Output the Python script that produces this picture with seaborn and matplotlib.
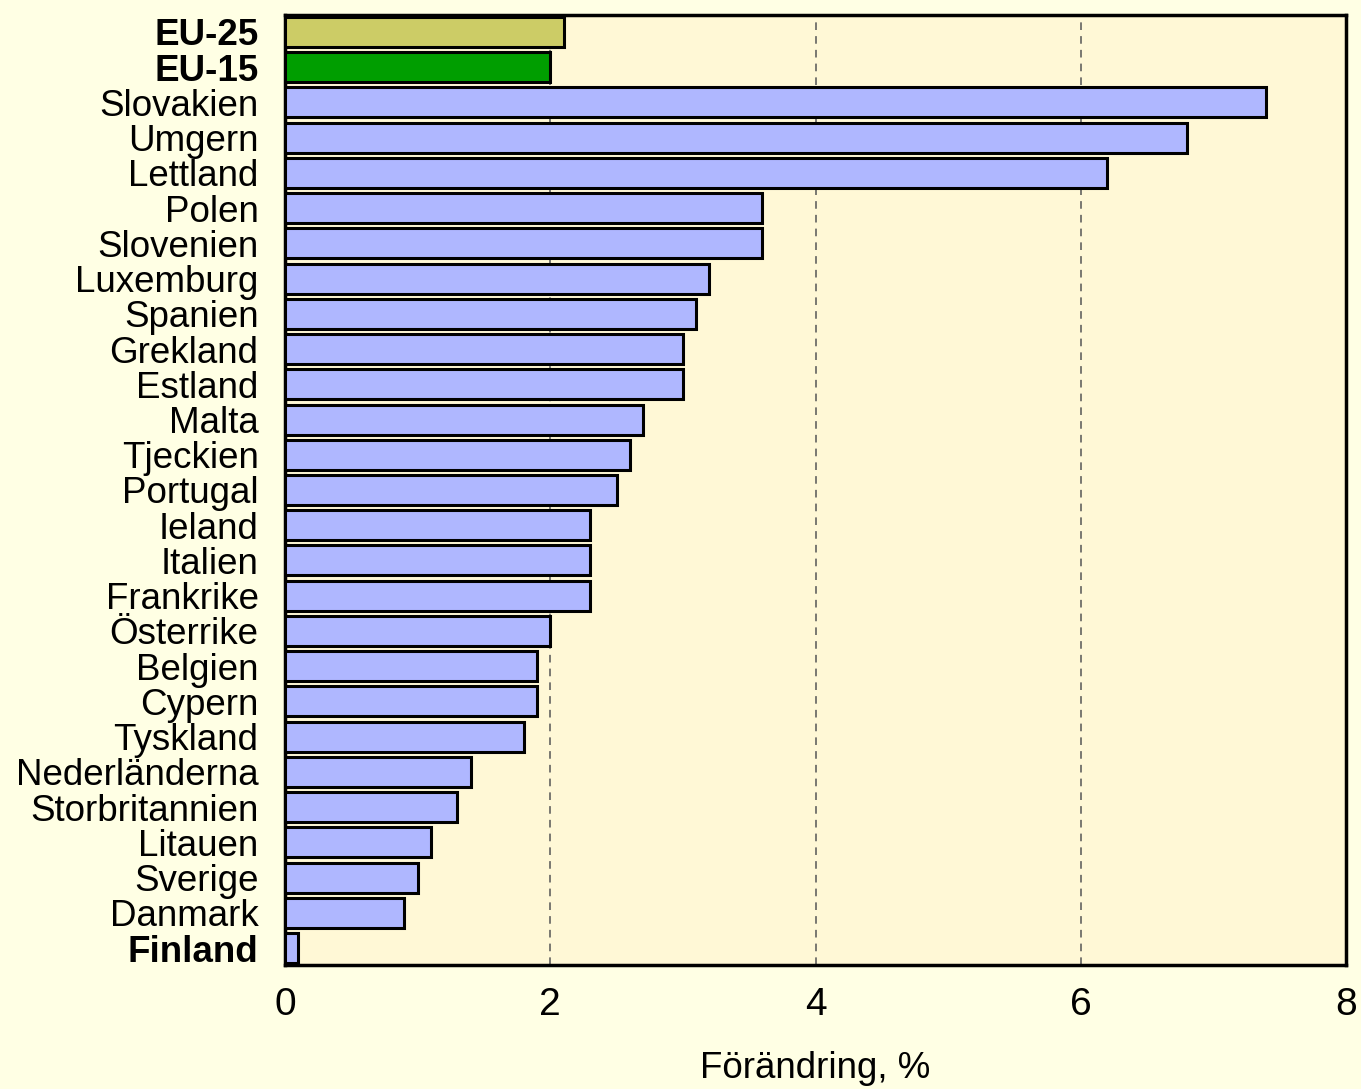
import matplotlib
matplotlib.use("Agg")
import pandas as pd
import seaborn as sns
from matplotlib import pyplot as plt

countries = ["EU-25", "EU-15", "Slovakien", "Umgern", "Lettland", "Polen", "Slovenien",
             "Luxemburg", "Spanien", "Grekland", "Estland", "Malta", "Tjeckien",
             "Portugal", "Ieland", "Italien", "Frankrike", "Österrike", "Belgien",
             "Cypern", "Tyskland", "Nederländerna", "Storbritannien", "Litauen",
             "Sverige", "Danmark", "Finland"]
change = [2.1, 2.0, 7.4, 6.8, 6.2, 3.6, 3.6, 3.2, 3.1, 3.0, 3.0, 2.7, 2.6, 2.5,
          2.3, 2.3, 2.3, 2.0, 1.9, 1.9, 1.8, 1.4, 1.3, 1.1, 1.0, 0.9, 0.1]
bold_labels = ["EU-25", "EU-15", "Finland"]
x_ticks = [0, 2, 4, 6, 8]

fig_bg = "#FFFFE4"
ax_bg = "#FFF8D6"
colors = {"EU-25": "#CCCC66", "EU-15": "#009E00"}
palette = [colors.get(c, "#AFB7FF") for c in countries]

df = pd.DataFrame({"land": countries, "change": change})

sns.set_style("white")
plt.rcParams["font.family"] = ["Liberation Sans", "DejaVu Sans"]
plt.rcParams["text.color"] = "black"
plt.rcParams["xtick.color"] = "black"
plt.rcParams["ytick.color"] = "black"
plt.rcParams["axes.labelcolor"] = "black"

fig = plt.figure(figsize=(13.61, 10.89), dpi=100, facecolor=fig_bg)
ax = fig.add_axes([0.2094, 0.1139, 0.7796, 0.8723])
ax.set_facecolor(ax_bg)

sns.barplot(data=df, x="change", y="land", hue="land", palette=palette,
            saturation=1, legend=False, width=0.85, edgecolor="black",
            linewidth=2.2, ax=ax, zorder=3)

ax.set_xlim(0, 8)
ax.set_ylim(len(countries) - 0.52, -0.48)
ax.set_xticks(x_ticks)
ax.set_xticklabels([str(t) for t in x_ticks], fontsize=28)
ax.tick_params(axis="both", length=0)
ax.tick_params(axis="x", pad=16)
ax.tick_params(axis="y", pad=19, labelsize=26.5)
for lbl in ax.get_yticklabels():
    if lbl.get_text() in bold_labels:
        lbl.set_fontweight("bold")

for t in [2, 4, 6]:
    ax.axvline(t, color="#555555", linestyle=(0, (5, 4)), linewidth=1.1, zorder=1)

for s in ax.spines.values():
    s.set_visible(True)
    s.set_color("black")
    s.set_linewidth(2.5)

ax.set_ylabel("")
ax.set_xlabel("Förändring, %", fontsize=26.5, labelpad=20)

fig.savefig("out.png", dpi=100, facecolor=fig_bg)
